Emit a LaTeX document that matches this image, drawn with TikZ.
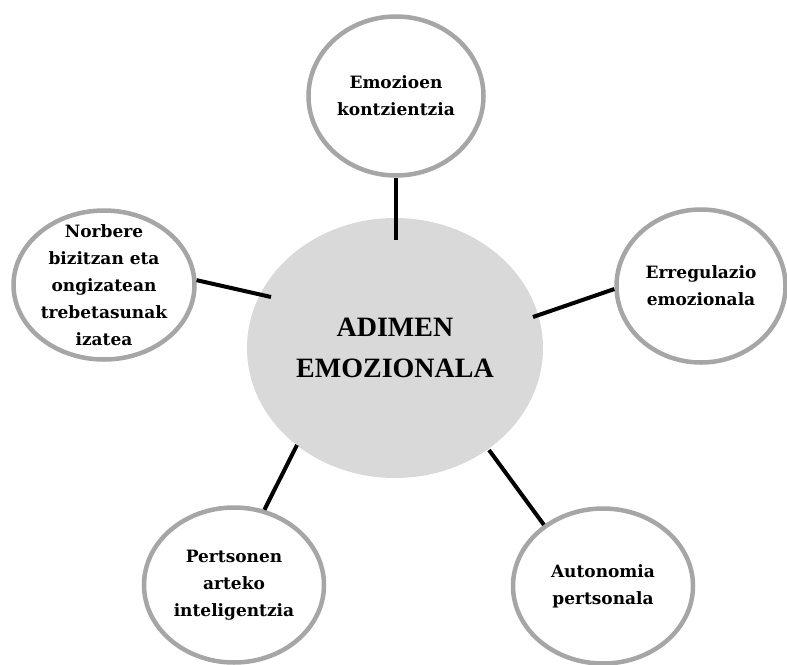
\documentclass[tikz,border=0pt]{standalone}
\usepackage{fontspec}
\setmainfont{DejaVu Serif}
\newfontfamily\hubfont{Liberation Serif}
\usetikzlibrary{shapes.geometric}
\definecolor{ringgray}{HTML}{A6A6A6}
\definecolor{hubgray}{HTML}{D9D9D9}
\tikzset{
  ringtext/.style={align=center, inner sep=0pt,
    font=\bfseries\fontsize{17}{27}\selectfont},
  satellite/.style={ellipse, draw=ringgray, line width=4.5pt, fill=white,
    inner sep=0pt, label={[ringtext]center:#1}},
  hub/.style={ellipse, fill=hubgray, inner sep=0pt},
  hubtext/.style={align=center, inner sep=0pt,
    font=\hubfont\bfseries\fontsize{28}{41}\selectfont},
  spoke/.style={line width=4pt, black}
}
\begin{document}
\begin{tikzpicture}[x=1pt, y=-1pt]
  \useasboundingbox (0,0) rectangle (787,664);

  % central ellipse and its title
  \node[hub, minimum width=296pt, minimum height=260pt] (hub) at (395,348) {};
  \node[hubtext] (hubtitle) at (395,348) {ADIMEN\\EMOZIONALA};

  % surrounding ellipses
  \node[satellite={Emozioen\\kontzientzia},
        minimum width=175pt, minimum height=159pt] (top) at (396,96) {};
  \node[satellite={Norbere\\bizitzan eta\\ongizatean\\trebetasunak\\izatea},
        minimum width=181pt, minimum height=149pt] (left) at (104,285) {};
  \node[satellite={Erregulazio\\emozionala},
        minimum width=169pt, minimum height=153pt] (right) at (701,286) {};
  \node[satellite={Pertsonen\\arteko\\inteligentzia},
        minimum width=180pt, minimum height=155pt] (botleft) at (234,585) {};
  \node[satellite={Autonomia\\pertsonala},
        minimum width=180pt, minimum height=155pt] (botright) at (603,586) {};

  % inner ends of the spokes
  \coordinate (etop) at (396,240);
  \coordinate (eleft) at (271,297);
  \coordinate (eright) at (533,317);
  \coordinate (ebotleft) at (297,445);
  \coordinate (ebotright) at (489,450);

  \draw[spoke] (top.south) -- (etop);
  \draw[spoke] (left.3) -- (eleft);
  \draw[spoke] (right.182) -- (eright);
  \draw[spoke] (botleft.68) -- (ebotleft);
  \draw[spoke] (botright.134) -- (ebotright);
\end{tikzpicture}
\end{document}
